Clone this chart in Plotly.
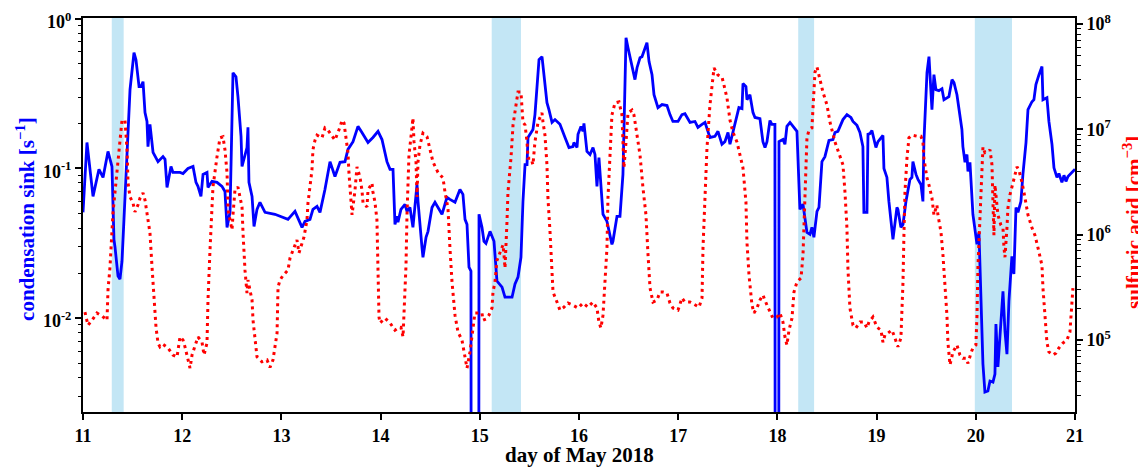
import plotly.graph_objects as go

# ---- condensation sink [s^-1] (blue, left axis) ----
cs_day = [11.000, 11.040, 11.101, 11.161, 11.202, 11.252, 11.292, 11.312, 11.323, 11.353, 11.373, 11.393, 11.413,
          11.444, 11.474, 11.514, 11.534, 11.565, 11.585, 11.605, 11.625, 11.645, 11.655, 11.675, 11.706, 11.756,
          11.806, 11.827, 11.847, 11.887, 11.907, 11.978, 12.008, 12.058, 12.109, 12.139, 12.159, 12.189, 12.210,
          12.250, 12.260, 12.300, 12.351, 12.401, 12.431, 12.452, 12.482, 12.512, 12.542, 12.562, 12.593, 12.603,
          12.633, 12.653, 12.663, 12.673, 12.704, 12.724, 12.754, 12.784, 12.835, 12.935, 13.066, 13.137, 13.208,
          13.238, 13.288, 13.318, 13.359, 13.389, 13.439, 13.490, 13.540, 13.591, 13.641, 13.671, 13.722, 13.772,
          13.812, 13.873, 13.923, 13.974, 14.014, 14.064, 14.095, 14.125, 14.145, 14.165, 14.175, 14.205, 14.246,
          14.266, 14.296, 14.326, 14.367, 14.377, 14.417, 14.427, 14.458, 14.478, 14.518, 14.548, 14.619, 14.669,
          14.699, 14.750, 14.800, 14.830, 14.851, 14.871, 14.891, 14.911, 14.916, 14.987, 14.992, 15.022, 15.042,
          15.062, 15.103, 15.143, 15.173, 15.224, 15.254, 15.325, 15.355, 15.385, 15.415, 15.435, 15.456, 15.476,
          15.486, 15.536, 15.556, 15.576, 15.597, 15.627, 15.647, 15.677, 15.697, 15.728, 15.758, 15.808, 15.859,
          15.899, 15.939, 15.949, 15.980, 15.990, 16.020, 16.040, 16.050, 16.080, 16.111, 16.141, 16.161, 16.181,
          16.201, 16.221, 16.242, 16.282, 16.302, 16.332, 16.342, 16.383, 16.413, 16.443, 16.453, 16.474, 16.494,
          16.534, 16.564, 16.585, 16.615, 16.635, 16.655, 16.685, 16.706, 16.736, 16.756, 16.776, 16.796, 16.837,
          16.887, 16.917, 16.947, 16.998, 17.038, 17.068, 17.119, 17.169, 17.199, 17.240, 17.270, 17.320, 17.371,
          17.401, 17.441, 17.471, 17.502, 17.522, 17.552, 17.592, 17.612, 17.643, 17.653, 17.683, 17.693, 17.723,
          17.754, 17.774, 17.824, 17.854, 17.875, 17.895, 17.925, 17.945, 17.975, 17.980, 18.011, 18.016, 18.056,
          18.076, 18.096, 18.127, 18.177, 18.197, 18.227, 18.258, 18.268, 18.298, 18.328, 18.348, 18.368, 18.399,
          18.419, 18.449, 18.479, 18.520, 18.560, 18.580, 18.610, 18.661, 18.701, 18.741, 18.762, 18.802, 18.832,
          18.862, 18.872, 18.903, 18.913, 18.933, 18.953, 18.993, 19.014, 19.064, 19.074, 19.104, 19.124, 19.165,
          19.205, 19.215, 19.245, 19.266, 19.296, 19.336, 19.356, 19.366, 19.397, 19.417, 19.447, 19.467, 19.477,
          19.508, 19.528, 19.558, 19.578, 19.598, 19.628, 19.659, 19.679, 19.709, 19.729, 19.760, 19.780, 19.810,
          19.830, 19.860, 19.870, 19.891, 19.911, 19.921, 19.941, 19.961, 19.971, 20.001, 20.012, 20.032, 20.052,
          20.072, 20.092, 20.122, 20.143, 20.173, 20.193, 20.203, 20.223, 20.253, 20.274, 20.294, 20.314, 20.334,
          20.364, 20.384, 20.405, 20.425, 20.455, 20.475, 20.506, 20.526, 20.566, 20.586, 20.606, 20.637, 20.667,
          20.677, 20.717, 20.737, 20.768, 20.788, 20.818, 20.838, 20.868, 20.889, 20.909, 20.929, 20.979, 21.000]
cs_val = [0.0509, 0.149, 0.0651, 0.0987, 0.0871, 0.130, 0.103, 0.0336, 0.0297, 0.0191, 0.0182, 0.024, 0.0457,
          0.134, 0.336, 0.594, 0.533, 0.352, 0.352, 0.380, 0.236, 0.206, 0.140, 0.197, 0.128, 0.111,
          0.120, 0.115, 0.0747, 0.103, 0.094, 0.094, 0.0925, 0.100, 0.103, 0.0807, 0.0759, 0.0651, 0.0912,
          0.094, 0.0747, 0.0820, 0.0807, 0.0759, 0.0702, 0.0404, 0.0509, 0.436, 0.410, 0.302, 0.164, 0.103,
          0.120, 0.138, 0.188, 0.0807, 0.0651, 0.0410, 0.0533, 0.0594, 0.0509, 0.0494, 0.0457, 0.0517, 0.0404,
          0.0443, 0.0457, 0.0533, 0.0558, 0.0509, 0.0724, 0.111, 0.0884, 0.110, 0.111, 0.134, 0.151, 0.191,
          0.174, 0.149, 0.161, 0.177, 0.156, 0.111, 0.0987, 0.0987, 0.0423, 0.0479, 0.0437, 0.0533, 0.0576,
          0.0517, 0.0549, 0.0404, 0.0782, 0.0602, 0.0297, 0.0255, 0.0347, 0.0380, 0.0549, 0.0594, 0.0494, 0.0641,
          0.0621, 0.0594, 0.0724, 0.0671, 0.0457, 0.0423, 0.0219, 0.0206, 1e-6, 1e-6, 0.0494, 0.0404, 0.0326,
          0.0316, 0.0380, 0.0326, 0.0177, 0.0161, 0.0138, 0.0138, 0.0169, 0.0188, 0.0255, 0.0602, 0.106, 0.106,
          0.161, 0.182, 0.229, 0.363, 0.533, 0.558, 0.423, 0.275, 0.247, 0.203, 0.212, 0.197, 0.161,
          0.138, 0.140, 0.149, 0.138, 0.169, 0.191, 0.177, 0.200, 0.130, 0.124, 0.138, 0.124, 0.0759,
          0.118, 0.0747, 0.0494, 0.0443, 0.0380, 0.0311, 0.0326, 0.0479, 0.0479, 0.0912, 0.177, 0.747, 0.641,
          0.471, 0.392, 0.471, 0.549, 0.558, 0.603, 0.692, 0.517, 0.423, 0.311, 0.275, 0.255, 0.267,
          0.263, 0.229, 0.206, 0.206, 0.229, 0.232, 0.203, 0.206, 0.188, 0.197, 0.203, 0.161, 0.164,
          0.177, 0.145, 0.151, 0.174, 0.145, 0.174, 0.219, 0.255, 0.251, 0.369, 0.352, 0.288, 0.311,
          0.236, 0.219, 0.215, 0.151, 0.138, 0.151, 0.209, 0.197, 0.197, 1e-6, 1e-6, 0.151, 0.156,
          0.145, 0.191, 0.203, 0.182, 0.177, 0.0533, 0.0576, 0.0517, 0.0374, 0.0363, 0.0404, 0.0347, 0.0517,
          0.0549, 0.111, 0.120, 0.154, 0.156, 0.174, 0.177, 0.212, 0.229, 0.219, 0.206, 0.194, 0.174,
          0.140, 0.0509, 0.0509, 0.169, 0.171, 0.179, 0.138, 0.151, 0.166, 0.100, 0.0871, 0.0602, 0.0336,
          0.0549, 0.0533, 0.0404, 0.0423, 0.0602, 0.0845, 0.0871, 0.111, 0.0912, 0.0845, 0.0782, 0.0602, 0.151,
          0.436, 0.558, 0.247, 0.423, 0.336, 0.331, 0.341, 0.288, 0.297, 0.302, 0.392, 0.374, 0.311,
          0.255, 0.182, 0.140, 0.110, 0.124, 0.0955, 0.110, 0.0702, 0.0494, 0.0352, 0.0311, 0.0374, 0.0138,
          0.00494, 0.00321, 0.00326, 0.00380, 0.00374, 0.00423, 0.00912, 0.00472, 0.00912, 0.0151, 0.00819, 0.00575, 0.0130,
          0.0259, 0.0197, 0.0549, 0.0509, 0.0602, 0.0912, 0.149, 0.247, 0.279, 0.288, 0.363, 0.423, 0.479,
          0.288, 0.297, 0.206, 0.145, 0.101, 0.0871, 0.0925, 0.0807, 0.090, 0.0820, 0.0884, 0.0955, 0.0987]

# ---- sulfuric acid [cm^-3] (red dotted, right axis) ----
sa_day = [11.020, 11.050, 11.091, 11.141, 11.192, 11.242, 11.252, 11.272, 11.302, 11.343, 11.373, 11.393, 11.423,
          11.434, 11.444, 11.454, 11.474, 11.504, 11.524, 11.554, 11.575, 11.605, 11.625, 11.645, 11.675, 11.696,
          11.716, 11.736, 11.756, 11.776, 11.806, 11.857, 11.907, 11.948, 11.978, 12.008, 12.028, 12.058, 12.079,
          12.099, 12.129, 12.159, 12.200, 12.220, 12.250, 12.260, 12.280, 12.300, 12.310, 12.351, 12.381, 12.411,
          12.431, 12.452, 12.462, 12.482, 12.502, 12.512, 12.532, 12.562, 12.583, 12.603, 12.613, 12.633, 12.653,
          12.663, 12.683, 12.704, 12.714, 12.734, 12.754, 12.804, 12.855, 12.885, 12.915, 12.956, 12.966, 12.986,
          13.016, 13.066, 13.087, 13.117, 13.157, 13.177, 13.208, 13.228, 13.258, 13.268, 13.308, 13.318, 13.339,
          13.359, 13.409, 13.439, 13.470, 13.510, 13.540, 13.591, 13.611, 13.631, 13.651, 13.671, 13.681, 13.702,
          13.712, 13.742, 13.762, 13.792, 13.812, 13.823, 13.843, 13.863, 13.873, 13.913, 13.923, 13.943, 13.963,
          13.974, 13.984, 13.994, 14.044, 14.095, 14.125, 14.145, 14.175, 14.205, 14.226, 14.236, 14.256, 14.266,
          14.286, 14.316, 14.326, 14.337, 14.357, 14.367, 14.377, 14.397, 14.427, 14.468, 14.498, 14.528, 14.578,
          14.629, 14.649, 14.679, 14.699, 14.720, 14.750, 14.780, 14.820, 14.851, 14.871, 14.901, 14.931, 14.951,
          14.992, 15.022, 15.032, 15.062, 15.092, 15.123, 15.133, 15.153, 15.173, 15.203, 15.234, 15.244, 15.254,
          15.274, 15.284, 15.314, 15.335, 15.365, 15.385, 15.415, 15.435, 15.456, 15.476, 15.486, 15.516, 15.536,
          15.556, 15.587, 15.627, 15.637, 15.657, 15.677, 15.687, 15.708, 15.728, 15.738, 15.778, 15.808, 15.849,
          15.889, 15.939, 15.990, 16.040, 16.091, 16.141, 16.181, 16.201, 16.221, 16.242, 16.262, 16.282, 16.292,
          16.312, 16.332, 16.363, 16.403, 16.433, 16.443, 16.453, 16.474, 16.494, 16.534, 16.554, 16.585, 16.615,
          16.645, 16.675, 16.696, 16.716, 16.746, 16.786, 16.816, 16.847, 16.887, 16.917, 16.947, 16.998, 17.038,
          17.068, 17.119, 17.169, 17.210, 17.240, 17.250, 17.270, 17.290, 17.320, 17.341, 17.361, 17.401, 17.441,
          17.461, 17.492, 17.522, 17.552, 17.592, 17.623, 17.653, 17.683, 17.693, 17.714, 17.744, 17.764, 17.794,
          17.824, 17.854, 17.895, 17.925, 17.955, 17.996, 18.026, 18.056, 18.076, 18.096, 18.117, 18.147, 18.167,
          18.197, 18.238, 18.258, 18.268, 18.288, 18.298, 18.318, 18.348, 18.359, 18.379, 18.399, 18.429, 18.459,
          18.500, 18.530, 18.580, 18.620, 18.661, 18.681, 18.701, 18.711, 18.731, 18.762, 18.792, 18.832, 18.873,
          18.903, 18.923, 18.963, 19.004, 19.044, 19.064, 19.084, 19.114, 19.155, 19.185, 19.215, 19.245, 19.266,
          19.276, 19.286, 19.306, 19.326, 19.356, 19.407, 19.447, 19.467, 19.477, 19.508, 19.528, 19.558, 19.578,
          19.608, 19.618, 19.649, 19.669, 19.689, 19.709, 19.719, 19.740, 19.770, 19.810, 19.840, 19.870, 19.901,
          19.921, 19.951, 19.971, 20.001, 20.012, 20.022, 20.042, 20.062, 20.072, 20.092, 20.122, 20.143, 20.163,
          20.173, 20.183, 20.193, 20.213, 20.223, 20.253, 20.274, 20.284, 20.294, 20.314, 20.324, 20.344, 20.375,
          20.395, 20.415, 20.435, 20.465, 20.496, 20.526, 20.566, 20.596, 20.627, 20.667, 20.677, 20.697, 20.717,
          20.737, 20.778, 20.808, 20.838, 20.878, 20.919, 20.949, 20.969, 20.979]
sa_val = [1.84e5, 1.38e5, 1.54e5, 1.80e5, 1.69e5, 1.54e5, 2.98e5, 4.9e5, 1.60e6, 3.85e6, 7.4e6, 1.22e7, 1.22e7,
          8.8e6, 6.4e6, 3.09e6, 2.28e6, 2.0e6, 1.64e6, 1.91e6, 2.23e6, 2.49e6, 2.13e6, 1.60e6, 1.04e6, 4.9e5,
          2.39e5, 1.32e5, 9.35e4, 8.6e4, 9.1e4, 8.4e4, 7.2e4, 6.9e4, 1.07e5, 1.0e5, 8.6e4, 6.7e4, 5.4e4,
          7.2e4, 8.6e4, 1.07e5, 9.5e4, 7.2e4, 9.35e4, 2.39e5, 7.1e5, 2.13e6, 2.83e6, 5.5e6, 8.3e6, 8.5e6,
          6.4e6, 3.85e6, 1.71e6, 1.38e6, 1.11e6, 1.54e6, 2.65e6, 2.83e6, 2.28e6, 1.83e6, 1.04e6, 4.6e5, 2.79e5,
          3.70e5, 2.98e5, 2.39e5, 1.54e5, 1.0e5, 6.9e4, 6.2e4, 6.45e4, 5.5e4, 6.45e4, 1.16e5, 3.18e5, 3.70e5,
          4.1e5, 4.6e5, 6.0e5, 7.1e5, 8.9e5, 6.7e5, 8.3e5, 9.5e5, 1.38e6, 2.0e6, 4.1e6, 6.4e6, 7.9e6,
          8.8e6, 8.3e6, 1.03e7, 9.8e6, 8.6e6, 7.9e6, 1.05e7, 1.22e7, 1.15e7, 8.3e6, 6.0e6, 3.85e6, 2.04e6,
          1.54e6, 2.65e6, 4.4e6, 3.52e6, 2.65e6, 2.0e6, 1.91e6, 1.83e6, 2.65e6, 3.09e6, 2.54e6, 2.04e6, 1.38e6,
          4.9e5, 1.65e5, 1.45e5, 1.61e5, 1.45e5, 1.30e5, 1.24e5, 1.30e5, 1.32e5, 1.07e5, 1.72e5, 5.1e5, 1.54e6,
          5.7e6, 1.03e7, 1.28e7, 7.6e6, 4.9e6, 2.28e6, 4.9e6, 7.1e6, 9.2e6, 8.5e6, 6.6e6, 4.9e6, 3.9e6,
          3.45e6, 2.54e6, 1.79e6, 7.5e5, 3.55e5, 1.72e5, 1.19e5, 1.0e5, 7.2e4, 5.4e4, 7.7e4, 1.30e5, 1.80e5,
          1.80e5, 1.80e5, 1.54e5, 1.58e5, 1.72e5, 2.01e5, 2.85e5, 3.55e5, 5.7e5, 6.8e5, 8.0e5, 6.4e5, 4.8e5,
          1.32e6, 2.54e6, 5.3e6, 1.10e7, 1.70e7, 2.26e7, 2.26e7, 1.17e7, 1.10e7, 7.6e6, 5.3e6, 5.3e6, 4.6e6,
          7.6e6, 1.17e7, 1.43e7, 1.17e7, 8.8e6, 4.6e6, 2.23e6, 1.06e6, 5.1e5, 2.85e5, 2.29e5, 1.92e5, 2.05e5,
          2.24e5, 2.14e5, 2.01e5, 2.24e5, 2.05e5, 2.29e5, 2.01e5, 1.48e5, 1.30e5, 1.72e5, 3.55e5, 7.5e5, 2.23e6,
          6.6e6, 1.37e7, 1.78e7, 1.82e7, 1.37e7, 6.6e6, 4.3e6, 7.6e6, 1.43e7, 1.52e7, 1.37e7, 8.8e6, 5.7e6,
          2.77e6, 1.54e6, 6.4e5, 3.11e5, 2.29e5, 2.39e5, 2.85e5, 2.85e5, 2.79e5, 2.24e5, 2.01e5, 1.92e5, 2.50e5,
          2.29e5, 2.29e5, 2.14e5, 2.05e5, 2.50e5, 7.5e5, 2.23e6, 6.6e6, 1.70e7, 2.75e7, 3.82e7, 3.28e7, 3.14e7,
          2.64e7, 1.98e7, 1.22e7, 9.4e6, 7.6e6, 5.7e6, 4.3e6, 2.04e6, 8.5e5, 4.1e5, 2.14e5, 1.80e5, 2.01e5,
          2.39e5, 2.67e5, 2.14e5, 1.84e5, 1.61e5, 1.65e5, 1.80e5, 1.48e5, 1.07e5, 8.95e4, 1.24e5, 1.61e5, 2.85e5,
          3.55e5, 3.87e5, 6.4e5, 1.16e6, 3.16e6, 8.3e6, 9.8e6, 1.03e7, 1.59e7, 3.50e7, 3.91e7, 2.94e7, 2.26e7,
          1.70e7, 1.17e7, 7.6e6, 6.0e6, 4.6e6, 2.54e6, 1.16e6, 4.8e5, 2.01e5, 1.38e5, 1.30e5, 1.48e5, 1.48e5,
          1.30e5, 1.48e5, 1.65e5, 1.32e5, 1.24e5, 9.5e4, 1.11e5, 1.16e5, 1.24e5, 1.04e5, 8.6e4, 1.04e5, 3.55e5,
          1.06e6, 2.54e6, 5.3e6, 8.3e6, 8.8e6, 8.6e6, 8.6e6, 7.6e6, 5.3e6, 3.45e6, 2.96e6, 2.23e6, 1.54e6,
          1.91e6, 1.54e6, 1.06e6, 6.4e5, 3.55e5, 1.72e5, 9.5e4, 5.8e4, 7.7e4, 8.95e4, 7.2e4, 6.7e4, 6.7e4,
          6.0e4, 7.5e4, 8.4e4, 8.95e4, 1.72e5, 5.1e5, 1.54e6, 3.9e6, 6.8e6, 6.0e6, 6.1e6, 6.4e6, 4.6e6,
          2.04e6, 9.9e5, 2.96e6, 1.79e6, 1.54e6, 1.23e6, 1.16e6, 7.5e5, 6.1e5, 1.16e6, 1.79e6, 2.38e6, 3.16e6,
          3.9e6, 4.4e6, 4.1e6, 3.16e6, 2.23e6, 1.54e6, 1.16e6, 9.9e5, 7.5e5, 5.1e5, 3.11e5, 1.72e5, 9.5e4,
          7.7e4, 7.2e4, 7.5e4, 8.4e4, 9.35e4, 1.0e5, 1.19e5, 2.01e5, 3.11e5]

# ---- shaded periods (day of May 2018) ----
shade_start = [11.29, 15.12, 18.21, 19.99]
shade_end = [11.41, 15.415, 18.37, 20.365]

x_ticks = [11, 12, 13, 14, 15, 16, 17, 18, 19, 20, 21]
cs_ticks = [1e-2, 1e-1, 1e0]
cs_ticktext = ["10<sup>-2</sup>", "10<sup>-1</sup>", "10<sup>0</sup>"]
sa_ticks = [1e5, 1e6, 1e7, 1e8]
sa_ticktext = ["10<sup>5</sup>", "10<sup>6</sup>", "10<sup>7</sup>", "10<sup>8</sup>"]

cs_minor = [m * 10.0 ** e for e in (-3, -2, -1) for m in range(2, 10) if m * 10.0 ** e > 2.4e-3]
sa_minor = [m * 10.0 ** e for e in (4, 5, 6, 7) for m in range(2, 10) if m * 10.0 ** e > 2.1e4]

FONT = "Liberation Serif"

fig = go.Figure()
fig.add_trace(go.Scatter(x=cs_day, y=cs_val, mode="lines", yaxis="y",
                         line=dict(color="#0000ff", width=2.8), showlegend=False, hoverinfo="skip"))
fig.add_trace(go.Scatter(x=sa_day, y=sa_val, mode="lines", yaxis="y2",
                         line=dict(color="#ff0000", width=3, dash="3px,4px"), showlegend=False, hoverinfo="skip"))

for s, e in zip(shade_start, shade_end):
    fig.add_shape(type="rect", xref="x", yref="paper", x0=s, x1=e, y0=0, y1=1,
                  fillcolor="rgb(195,230,245)", line_width=0, layer="below")

tickfont = dict(family=FONT, size=18, color="black", weight="bold")

# plot area: 992 px wide, 394 px tall (the page body adds an 8 px offset)
fig.add_annotation(text="condensation sink [s<sup>−1</sup>]", xref="paper", yref="paper",
                   x=(26 - 83) / 992, y=0.49, textangle=-90, showarrow=False,
                   xanchor="center", yanchor="middle",
                   font=dict(family=FONT, size=21, color="#0000ff", weight="bold"))
fig.add_annotation(text="sulfuric acid [cm<sup>−3</sup>]", xref="paper", yref="paper",
                   x=(1133 - 83) / 992, y=0.48, textangle=-90, showarrow=False,
                   xanchor="center", yanchor="middle",
                   font=dict(family=FONT, size=21, color="#ff0000", weight="bold"))
fig.add_annotation(text="day of May 2018", xref="paper", yref="paper",
                   x=0.5, y=-(455 - 412) / 394, showarrow=False,
                   xanchor="center", yanchor="middle",
                   font=dict(family=FONT, size=21, color="black", weight="bold"))

fig.update_layout(
    width=1138, height=459,
    margin=dict(l=75, r=71, t=10, b=55),
    plot_bgcolor="white", paper_bgcolor="white",
    xaxis=dict(range=[11, 21], tickvals=x_ticks, ticktext=[str(v) for v in x_ticks],
               ticks="outside", ticklen=6, tickwidth=1.5, tickcolor="black",
               showline=True, linewidth=2, linecolor="black", mirror=True,
               showgrid=False, zeroline=False, tickfont=tickfont, automargin=False,
               ticklabeloverflow="allow"),
    yaxis=dict(type="log", range=[-2.627, 0.005], tickvals=cs_ticks, ticktext=cs_ticktext,
               ticks="outside", ticklen=6, tickwidth=1.5, tickcolor="black",
               minor=dict(tickvals=cs_minor, ticks="outside", ticklen=3.5, tickwidth=1, tickcolor="black", showgrid=False),
               showline=True, linewidth=2, linecolor="black", automargin=False,
               showgrid=False, zeroline=False, tickfont=tickfont, ticklabeloverflow="allow",
               ticklabelshift=3),
    yaxis2=dict(type="log", overlaying="y", side="right", range=[4.316, 8.057],
                tickvals=sa_ticks, ticktext=sa_ticktext,
                ticks="outside", ticklen=6, tickwidth=1.5, tickcolor="black",
                minor=dict(tickvals=sa_minor, ticks="outside", ticklen=3.5, tickwidth=1, tickcolor="black", showgrid=False),
                showline=True, linewidth=2, linecolor="black", automargin=False,
                showgrid=False, zeroline=False, tickfont=tickfont, ticklabeloverflow="allow"),
)

fig.write_html("out.html")
